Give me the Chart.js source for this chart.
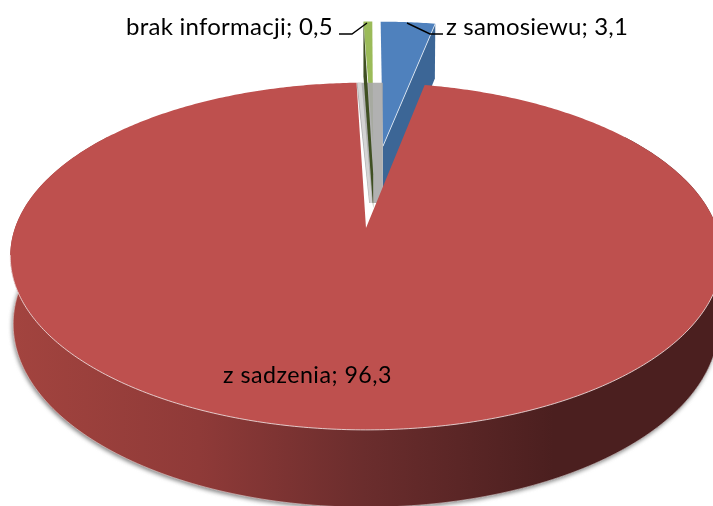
<!DOCTYPE html>
<html>
<head>
<meta charset="utf-8">
<title>Pie 3D</title>
<script src="https://cdn.jsdelivr.net/npm/chart.js@4"></script>
<style>
  html, body { margin: 0; padding: 0; background: #fff; }
  canvas { display: block; }
</style>
</head>
<body>
<canvas id="chart" width="713" height="506"></canvas>
<script>
const categories = ['z samosiewu', 'z sadzenia', 'brak informacji'];
const values = [3.1, 96.3, 0.5];

const faceColors = ['#4F81BD', '#BE504E', '#9BBB59'];
const wallColors = ['#3C6696', '#8F3A38', '#3F4F22'];

// the tilted view: red apex on screen, radii, perspective, thickness
const view = { cx: 366, cy: 228, rx: 351, ry: 169, persp: 0.1628, depth: 67, drop: 0.008, explode: 0.263 };

// text position, size, width and leader line for each slice label
const labelPos = [
  { x: 446, y: 35, size: 24, w: 182, line: [[443, 34], [430, 34], [407, 23]] },
  { x: 223, y: 383, size: 23.2, w: 169 },
  { x: 126, y: 35, size: 24, w: 207, line: [[339, 34], [352, 34], [367, 23]] }
];

function project(u, v, z) {
  const w = 1 + view.persp * v + view.drop * z;
  return { x: view.cx + view.rx * u / w, y: view.cy + (view.depth * z - view.ry * v) / w };
}

// angles of the arc element, clockwise from north
function sliceAngles(el) {
  const p = el.getProps(['startAngle', 'endAngle'], true);
  return { a0: p.startAngle + Math.PI / 2, a1: p.endAngle + Math.PI / 2 };
}

function origin(els, el, nudge) {
  const big = sliceAngles(els[1]);
  const bigMid = (big.a0 + big.a1) / 2;
  const s = sliceAngles(el);
  const mid = (s.a0 + s.a1) / 2;
  return {
    u: view.explode * (Math.sin(mid) - Math.sin(bigMid)) + nudge,
    v: view.explode * (Math.cos(mid) - Math.cos(bigMid))
  };
}

function rimPoint(o, a, z) {
  return project(o.u + Math.sin(a), o.v + Math.cos(a), z);
}

function tracePoints(ctx, pts) {
  ctx.beginPath();
  pts.forEach((p, i) => (i ? ctx.lineTo(p.x, p.y) : ctx.moveTo(p.x, p.y)));
  ctx.closePath();
}

function slicePoints(o, s, z) {
  const pts = [project(o.u, o.v, z)];
  const n = Math.max(4, Math.round((s.a1 - s.a0) * 90));
  for (let i = 0; i <= n; i++) pts.push(rimPoint(o, s.a0 + (s.a1 - s.a0) * i / n, z));
  return pts;
}

const pie3d = {
  id: 'pie3d',
  beforeDatasetDraw(chart) {
    const ctx = chart.ctx;
    const els = chart.getDatasetMeta(0).data;
    const blue = { o: origin(els, els[0], 0.005), s: sliceAngles(els[0]) };
    const red = { o: origin(els, els[1], 0), s: sliceAngles(els[1]) };
    const green = { o: origin(els, els[2], 0.005), s: sliceAngles(els[2]) };

    ctx.save();

    // blue wedge, cut wall first
    tracePoints(ctx, [
      project(blue.o.u, blue.o.v, 0), rimPoint(blue.o, blue.s.a1, 0),
      rimPoint(blue.o, blue.s.a1, 1), project(blue.o.u, blue.o.v, 1)
    ]);
    ctx.fillStyle = wallColors[0];
    ctx.fill();
    tracePoints(ctx, slicePoints(blue.o, blue.s, 0));
    ctx.fillStyle = els[0].options.backgroundColor;
    ctx.fill();
    ctx.beginPath();
    const bTip = project(blue.o.u, blue.o.v, 0), bEnd = rimPoint(blue.o, blue.s.a1, 0);
    ctx.moveTo(bTip.x, bTip.y);
    ctx.lineTo(bEnd.x, bEnd.y);
    ctx.strokeStyle = 'rgba(255,255,255,0.7)';
    ctx.lineWidth = 1;
    ctx.stroke();

    // green wedge
    tracePoints(ctx, slicePoints(green.o, green.s, 0));
    ctx.fillStyle = els[2].options.backgroundColor;
    ctx.fill();

    // grey shade seen through the gap between the wedges
    const redLeft = rimPoint(red.o, red.s.a1, 0);
    const gTip = project(green.o.u, green.o.v, 1);
    const shadeRight = bTip.x;
    const shadeLow = gTip.y - 5;
    tracePoints(ctx, [
      { x: redLeft.x, y: redLeft.y },
      { x: shadeRight, y: redLeft.y },
      { x: shadeRight, y: shadeLow },
      { x: gTip.x - 4, y: shadeLow }
    ]);
    ctx.fillStyle = 'rgba(168,168,168,0.9)';
    ctx.fill();
    tracePoints(ctx, [
      { x: redLeft.x + 1, y: redLeft.y },
      { x: redLeft.x + 5, y: redLeft.y },
      { x: gTip.x - 1, y: shadeLow },
      { x: gTip.x - 3.5, y: shadeLow }
    ]);
    ctx.fillStyle = '#D4D4D4';
    ctx.fill();

    // green cut wall, nearly edge on
    tracePoints(ctx, [
      project(green.o.u, green.o.v, 0.45), rimPoint(green.o, green.s.a0, 0),
      rimPoint(green.o, green.s.a0, 1), project(green.o.u, green.o.v, 1)
    ]);
    ctx.fillStyle = wallColors[2];
    ctx.fill();

    // red bottom plane, with the soft shadow under it
    ctx.save();
    ctx.shadowColor = 'rgba(90,90,90,0.75)';
    ctx.shadowBlur = 4;
    ctx.shadowOffsetX = -1;
    ctx.shadowOffsetY = 2;
    const left = project(-1, -0.16, 1), right = project(1, -0.16, 1);
    const wallGrad = ctx.createLinearGradient(left.x, 0, right.x - 170, 0);
    wallGrad.addColorStop(0, '#A3443F');
    wallGrad.addColorStop(0.35, '#8F3A38');
    wallGrad.addColorStop(0.65, '#6B2D2D');
    wallGrad.addColorStop(1, '#4B1F1F');
    tracePoints(ctx, slicePoints(red.o, red.s, 1));
    ctx.fillStyle = wallGrad;
    ctx.fill();
    ctx.restore();

    // wall between the two planes
    const wall = [];
    const from = Math.PI * 0.3, to = Math.PI * 1.7;
    for (let i = 0; i <= 240; i++) wall.push(rimPoint(red.o, from + (to - from) * i / 240, 0));
    for (let i = 240; i >= 0; i--) wall.push(rimPoint(red.o, from + (to - from) * i / 240, 1));
    tracePoints(ctx, wall);
    ctx.fillStyle = wallGrad;
    ctx.fill();

    // pale edge under the wall
    ctx.beginPath();
    for (let i = 0; i <= 240; i++) {
      const p = rimPoint(red.o, from + (to - from) * i / 240, 1);
      if (i) ctx.lineTo(p.x, p.y); else ctx.moveTo(p.x, p.y);
    }
    ctx.strokeStyle = 'rgba(235,235,235,0.55)';
    ctx.lineWidth = 1;
    ctx.stroke();

    // red top face
    tracePoints(ctx, slicePoints(red.o, red.s, 0));
    ctx.fillStyle = els[1].options.backgroundColor;
    ctx.fill();

    // pale rim on the front of the top face
    ctx.beginPath();
    const r0 = Math.PI * 0.58, r1 = Math.PI * 1.45;
    for (let i = 0; i <= 240; i++) {
      const p = rimPoint(red.o, r0 + (r1 - r0) * i / 240, 0);
      if (i) ctx.lineTo(p.x, p.y); else ctx.moveTo(p.x, p.y);
    }
    ctx.strokeStyle = 'rgba(240,225,225,0.85)';
    ctx.lineWidth = 1;
    ctx.stroke();

    ctx.restore();
    return false;
  },
  afterDraw(chart) {
    const ctx = chart.ctx;
    ctx.save();
    ctx.fillStyle = '#000';
    ctx.strokeStyle = '#000';
    ctx.lineWidth = 1.4;
    ctx.textBaseline = 'alphabetic';
    categories.forEach((cat, i) => {
      const pos = labelPos[i];
      const text = cat + '; ' + String(values[i]).replace('.', ',');
      ctx.font = pos.size + 'px Lato, "Open Sans", sans-serif';
      ctx.letterSpacing = '0px';
      const spare = pos.w - ctx.measureText(text).width;
      ctx.letterSpacing = (spare / text.length) + 'px';
      ctx.fillText(text, pos.x, pos.y);
      if (pos.line) {
        ctx.beginPath();
        pos.line.forEach((p, k) => (k ? ctx.lineTo(p[0], p[1]) : ctx.moveTo(p[0], p[1])));
        ctx.stroke();
      }
    });
    ctx.restore();
  }
};

new Chart(document.getElementById('chart').getContext('2d'), {
  type: 'pie',
  data: {
    labels: categories,
    datasets: [{ data: values, backgroundColor: faceColors, borderWidth: 0 }]
  },
  options: {
    responsive: false,
    animation: false,
    plugins: { legend: { display: false }, tooltip: { enabled: false } }
  },
  plugins: [pie3d]
});
</script>
</body>
</html>
